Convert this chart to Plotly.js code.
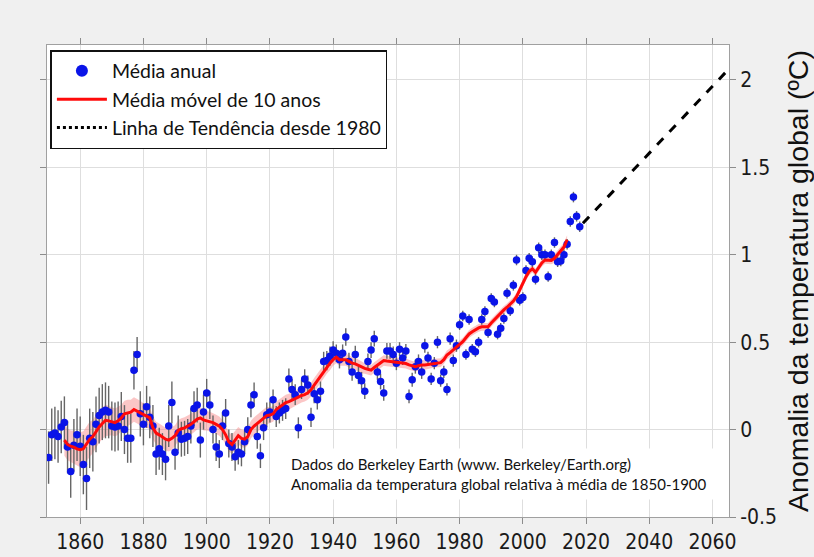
<!DOCTYPE html>
<html>
<head>
<meta charset="utf-8">
<script src="https://cdn.plot.ly/plotly-3.0.1.min.js"></script>
<style>
html,body{margin:0;padding:0;background:#f0f0f0;}
#chart{width:814px;height:557px;}
</style>
</head>
<body>
<div id="chart"></div>
<script>
// ---- Data ----
const annualStart = 1850;
const annualAnomaly = [
  -0.16, -0.03, -0.02, -0.04, 0.015, 0.04, -0.10, -0.24, -0.09, -0.03,
  -0.095, -0.20, -0.28, -0.05, -0.07, 0.03, 0.08, 0.10, 0.11, 0.10,
  0.02, 0.015, 0.02, 0.075, 0.0, -0.05, -0.05, 0.34, 0.43, 0.09,
  0.03, 0.13, 0.07, 0.02, -0.14, -0.11, -0.14, -0.17, 0.02, 0.155,
  -0.13, -0.02, -0.055, -0.05, -0.04, 0.02, 0.12, 0.14, -0.06, 0.10,
  0.21, 0.14, 0.0, -0.10, -0.14, 0.02, 0.095, -0.08, -0.10, -0.155,
  -0.13, -0.14, -0.07, 0.0, 0.14, 0.20, -0.04, -0.15, 0.01, 0.085,
  0.10, 0.17, 0.075, 0.095, 0.11, 0.12, 0.29, 0.23, 0.20, 0.01,
  0.23, 0.29, 0.255, 0.07, 0.205, 0.17, 0.22, 0.39, 0.395, 0.42,
  0.455, 0.437, 0.40, 0.437, 0.53, 0.39, 0.33, 0.43, 0.31, 0.28,
  0.22, 0.39, 0.455, 0.52, 0.33, 0.275, 0.21, 0.45, 0.45, 0.43,
  0.38, 0.46, 0.41, 0.45, 0.19, 0.285, 0.36, 0.39, 0.33, 0.48,
  0.41, 0.29, 0.38, 0.50, 0.28, 0.33, 0.23, 0.52, 0.395, 0.48,
  0.60, 0.65, 0.43, 0.63, 0.46, 0.445, 0.50, 0.63, 0.675, 0.555,
  0.75, 0.73, 0.546, 0.58, 0.635, 0.78, 0.68, 0.825, 0.97, 0.74,
  0.755, 0.91, 0.98, 0.96, 0.86, 1.04, 1.0, 1.0, 0.875, 1.0,
  1.07, 0.96, 0.965, 1.0, 1.06, 1.19, 1.33, 1.22, 1.16
];
const annualUncertainty = [
  0.15, 0.15, 0.15, 0.15, 0.15, 0.15, 0.15, 0.15, 0.15, 0.15,
  0.17, 0.17, 0.18, 0.17, 0.17, 0.16, 0.16, 0.16, 0.16, 0.15,
  0.14, 0.14, 0.14, 0.14, 0.14, 0.14, 0.14, 0.11, 0.10, 0.13,
  0.12, 0.12, 0.12, 0.12, 0.12, 0.12, 0.12, 0.12, 0.12, 0.12,
  0.10, 0.10, 0.10, 0.10, 0.10, 0.10, 0.10, 0.10, 0.10, 0.10,
  0.08, 0.08, 0.08, 0.08, 0.08, 0.08, 0.08, 0.08, 0.08, 0.08,
  0.07, 0.07, 0.07, 0.07, 0.07, 0.07, 0.07, 0.07, 0.07, 0.07,
  0.06, 0.06, 0.06, 0.06, 0.06, 0.06, 0.06, 0.06, 0.06, 0.06,
  0.055, 0.055, 0.055, 0.055, 0.055, 0.055, 0.055, 0.055, 0.055, 0.055,
  0.05, 0.05, 0.05, 0.05, 0.05, 0.05, 0.05, 0.05, 0.05, 0.05,
  0.045, 0.045, 0.045, 0.045, 0.045, 0.045, 0.045, 0.045, 0.045, 0.045,
  0.04, 0.04, 0.04, 0.04, 0.04, 0.04, 0.04, 0.04, 0.04, 0.04,
  0.035, 0.035, 0.035, 0.035, 0.035, 0.035, 0.035, 0.035, 0.035, 0.035,
  0.03, 0.03, 0.03, 0.03, 0.03, 0.03, 0.03, 0.03, 0.03, 0.03,
  0.03, 0.03, 0.03, 0.03, 0.03, 0.03, 0.03, 0.03, 0.03, 0.03,
  0.03, 0.03, 0.03, 0.03, 0.03, 0.03, 0.03, 0.03, 0.03, 0.03,
  0.03, 0.03, 0.03, 0.03, 0.03, 0.03, 0.03, 0.03, 0.03
];
const movingAvgStart = 1855;
const movingAvg = [
  -0.06, -0.085, -0.095, -0.10, -0.11,
  -0.115, -0.11, -0.08, -0.055, -0.04, -0.01, 0.015, 0.035, 0.053, 0.05,
  0.047, 0.04, 0.05, 0.067, 0.09, 0.095, 0.10, 0.115, 0.105, 0.095,
  0.085, 0.075, 0.067, 0.01, -0.02, -0.03, -0.045, -0.055, -0.06, -0.05,
  -0.035, -0.005, 0.005, 0.01, 0.02, 0.03, 0.045, 0.06, 0.067, 0.055,
  0.05, 0.047, 0.04, 0.03, 0.02, 0.0, -0.03, -0.07, -0.085, -0.06,
  -0.035, -0.05, -0.055, -0.04, 0.0, 0.02, 0.035, 0.055, 0.065, 0.08,
  0.083, 0.09, 0.115, 0.13, 0.145, 0.155, 0.16, 0.17, 0.18, 0.186,
  0.195, 0.20, 0.21, 0.228, 0.255, 0.28, 0.308, 0.335, 0.36, 0.38,
  0.40, 0.414, 0.40, 0.40, 0.40, 0.39, 0.38, 0.376, 0.366, 0.358,
  0.35, 0.345, 0.34, 0.355, 0.368, 0.38, 0.395, 0.392, 0.39, 0.385,
  0.383, 0.383, 0.381, 0.378, 0.37, 0.365, 0.36, 0.365, 0.37, 0.37,
  0.372, 0.375, 0.38, 0.382, 0.383, 0.40, 0.427, 0.44, 0.455, 0.474,
  0.487, 0.503, 0.525, 0.547, 0.56, 0.573, 0.582, 0.588, 0.588, 0.588,
  0.61, 0.63, 0.65, 0.668, 0.685, 0.70, 0.715, 0.735, 0.76, 0.80,
  0.83, 0.875, 0.905, 0.92, 0.90, 0.93, 0.953, 0.97, 0.97, 0.968,
  0.98, 1.0, 1.02, 1.044, 1.086
];
const movingAvgUncertainty = [
  0.09, 0.09, 0.09, 0.095, 0.095,
  0.10, 0.10, 0.10, 0.10, 0.095, 0.095, 0.09, 0.09, 0.09, 0.085,
  0.08, 0.08, 0.08, 0.075, 0.075, 0.075, 0.07, 0.07, 0.07, 0.07,
  0.065, 0.065, 0.065, 0.065, 0.065, 0.065, 0.065, 0.065, 0.065, 0.065,
  0.06, 0.06, 0.06, 0.06, 0.06, 0.06, 0.06, 0.06, 0.06, 0.06,
  0.055, 0.055, 0.055, 0.055, 0.055, 0.055, 0.055, 0.055, 0.055, 0.055,
  0.05, 0.05, 0.05, 0.05, 0.05, 0.05, 0.05, 0.05, 0.05, 0.05,
  0.045, 0.045, 0.045, 0.045, 0.045, 0.045, 0.045, 0.045, 0.045, 0.045,
  0.04, 0.04, 0.04, 0.04, 0.04, 0.04, 0.04, 0.04, 0.04, 0.04,
  0.035, 0.035, 0.035, 0.035, 0.035, 0.035, 0.035, 0.035, 0.035, 0.035,
  0.03, 0.03, 0.03, 0.03, 0.03, 0.03, 0.03, 0.03, 0.03, 0.03,
  0.028, 0.028, 0.028, 0.028, 0.028, 0.028, 0.028, 0.028, 0.028, 0.028,
  0.025, 0.025, 0.025, 0.025, 0.025, 0.025, 0.025, 0.025, 0.025, 0.025,
  0.022, 0.022, 0.022, 0.022, 0.022, 0.022, 0.022, 0.022, 0.022, 0.022,
  0.022, 0.022, 0.022, 0.022, 0.022, 0.022, 0.022, 0.022, 0.022, 0.022,
  0.022, 0.022, 0.022, 0.022, 0.022, 0.022, 0.022, 0.022, 0.022, 0.022,
  0.025, 0.025, 0.025, 0.025, 0.025
];
const trendYears = [2019, 2065];
const trendValues = [1.18, 2.06];

const xTickVals = [1860, 1880, 1900, 1920, 1940, 1960, 1980, 2000, 2020, 2040, 2060];
const yTickVals = [-0.5, 0, 0.5, 1, 1.5, 2];
const yTickText = ['-0.5', '0', '0.5', '1', '1.5', '2'];

const legendLabels = ['Média anual', 'Média móvel de 10 anos', 'Linha de Tendência desde 1980'];
const yTitle = 'Anomalia da temperatura global (ºC)';
const noteLines = ['Dados do Berkeley Earth (www. Berkeley/Earth.org)',
                   'Anomalia da temperatura global relativa à média de 1850-1900'];

// ---- Derived x positions ----
const annualYears = annualAnomaly.map((_, i) => annualStart + i);
const maYears = movingAvg.map((_, i) => movingAvgStart + i);
const maLower = movingAvg.map((v, i) => v - movingAvgUncertainty[i]);
const maUpper = movingAvg.map((v, i) => v + movingAvgUncertainty[i]);

const BLUE = '#0a14e8';
const RED = '#ff0a0a';

const traces = [
  {x: maYears, y: maLower, mode: 'lines', line: {width: 0, color: 'rgba(0,0,0,0)'},
   showlegend: false, hoverinfo: 'skip'},
  {x: maYears, y: maUpper, mode: 'lines', line: {width: 0, color: 'rgba(0,0,0,0)'},
   fill: 'tonexty', fillcolor: 'rgba(245,120,120,0.42)', showlegend: false, hoverinfo: 'skip'},
  {x: annualYears, y: annualAnomaly, mode: 'markers', type: 'scatter',
   marker: {color: BLUE, size: 7.5},
   error_y: {type: 'data', array: annualUncertainty, visible: true, color: '#666666', thickness: 1.4, width: 0},
   showlegend: false},
  {x: maYears, y: movingAvg, mode: 'lines', line: {color: RED, width: 3}, showlegend: false},
  {x: trendYears, y: trendValues, mode: 'lines', line: {color: '#000', width: 3, dash: 'dash'}, showlegend: false},
  // legend entries
  {x: [null], y: [null], mode: 'markers', marker: {color: BLUE, size: 12}, name: legendLabels[0]},
  {x: [null], y: [null], mode: 'lines', line: {color: RED, width: 3}, name: legendLabels[1]},
  {x: [null], y: [null], mode: 'lines', line: {color: '#000', width: 3, dash: 'dot'}, name: legendLabels[2]}
];

const tickFont = {family: '"Liberation Sans Narrow", "Arial Narrow", "DejaVu Sans Condensed", sans-serif', size: 21, color: '#1a1a1a'};

const layout = {
  width: 814, height: 557,
  paper_bgcolor: '#f0f0f0',
  plot_bgcolor: '#ffffff',
  margin: {l: 47, r: 85, t: 45, b: 40},
  showlegend: true,
  xaxis: {
    range: [1849.5, 2065.2],
    tickvals: xTickVals,
    ticks: 'outside', ticklen: 6, tickcolor: '#8c8c8c',
    showline: true, linecolor: '#a0a0a0', linewidth: 1, mirror: 'ticks',
    showgrid: true, gridcolor: '#dedede', gridwidth: 1,
    zeroline: false,
    tickfont: tickFont
  },
  yaxis: {
    range: [-0.5, 2.2],
    side: 'right',
    tickvals: yTickVals, ticktext: yTickText,
    ticks: 'outside', ticklen: 6, tickcolor: '#8c8c8c',
    showline: true, linecolor: '#a0a0a0', linewidth: 1, mirror: 'ticks',
    showgrid: true, gridcolor: '#dedede', gridwidth: 1,
    zeroline: false,
    tickfont: tickFont,
    title: {text: yTitle, standoff: 12,
            font: {family: '"Liberation Sans", Arial, sans-serif', size: 28.5, color: '#111'}}
  },
  legend: {
    x: 0.005, y: 0.989, xanchor: 'left', yanchor: 'top',
    bgcolor: '#ffffff', bordercolor: '#111', borderwidth: 1.5,
    font: {family: 'Lato, "Open Sans", sans-serif', size: 19.5, color: '#111'},
    traceorder: 'normal', itemwidth: 50
  },
  annotations: [{
    xref: 'paper', yref: 'paper', x: 0.347, y: 0.036, xanchor: 'left', yanchor: 'bottom',
    align: 'left', showarrow: false,
    text: noteLines.join('<br>'),
    bgcolor: '#ffffff', borderpad: 6,
    font: {family: 'Lato, "Open Sans", sans-serif', size: 15, color: '#111'}
  }]
};

Plotly.newPlot('chart', traces, layout, {displayModeBar: false, staticPlot: true});
</script>
</body>
</html>
